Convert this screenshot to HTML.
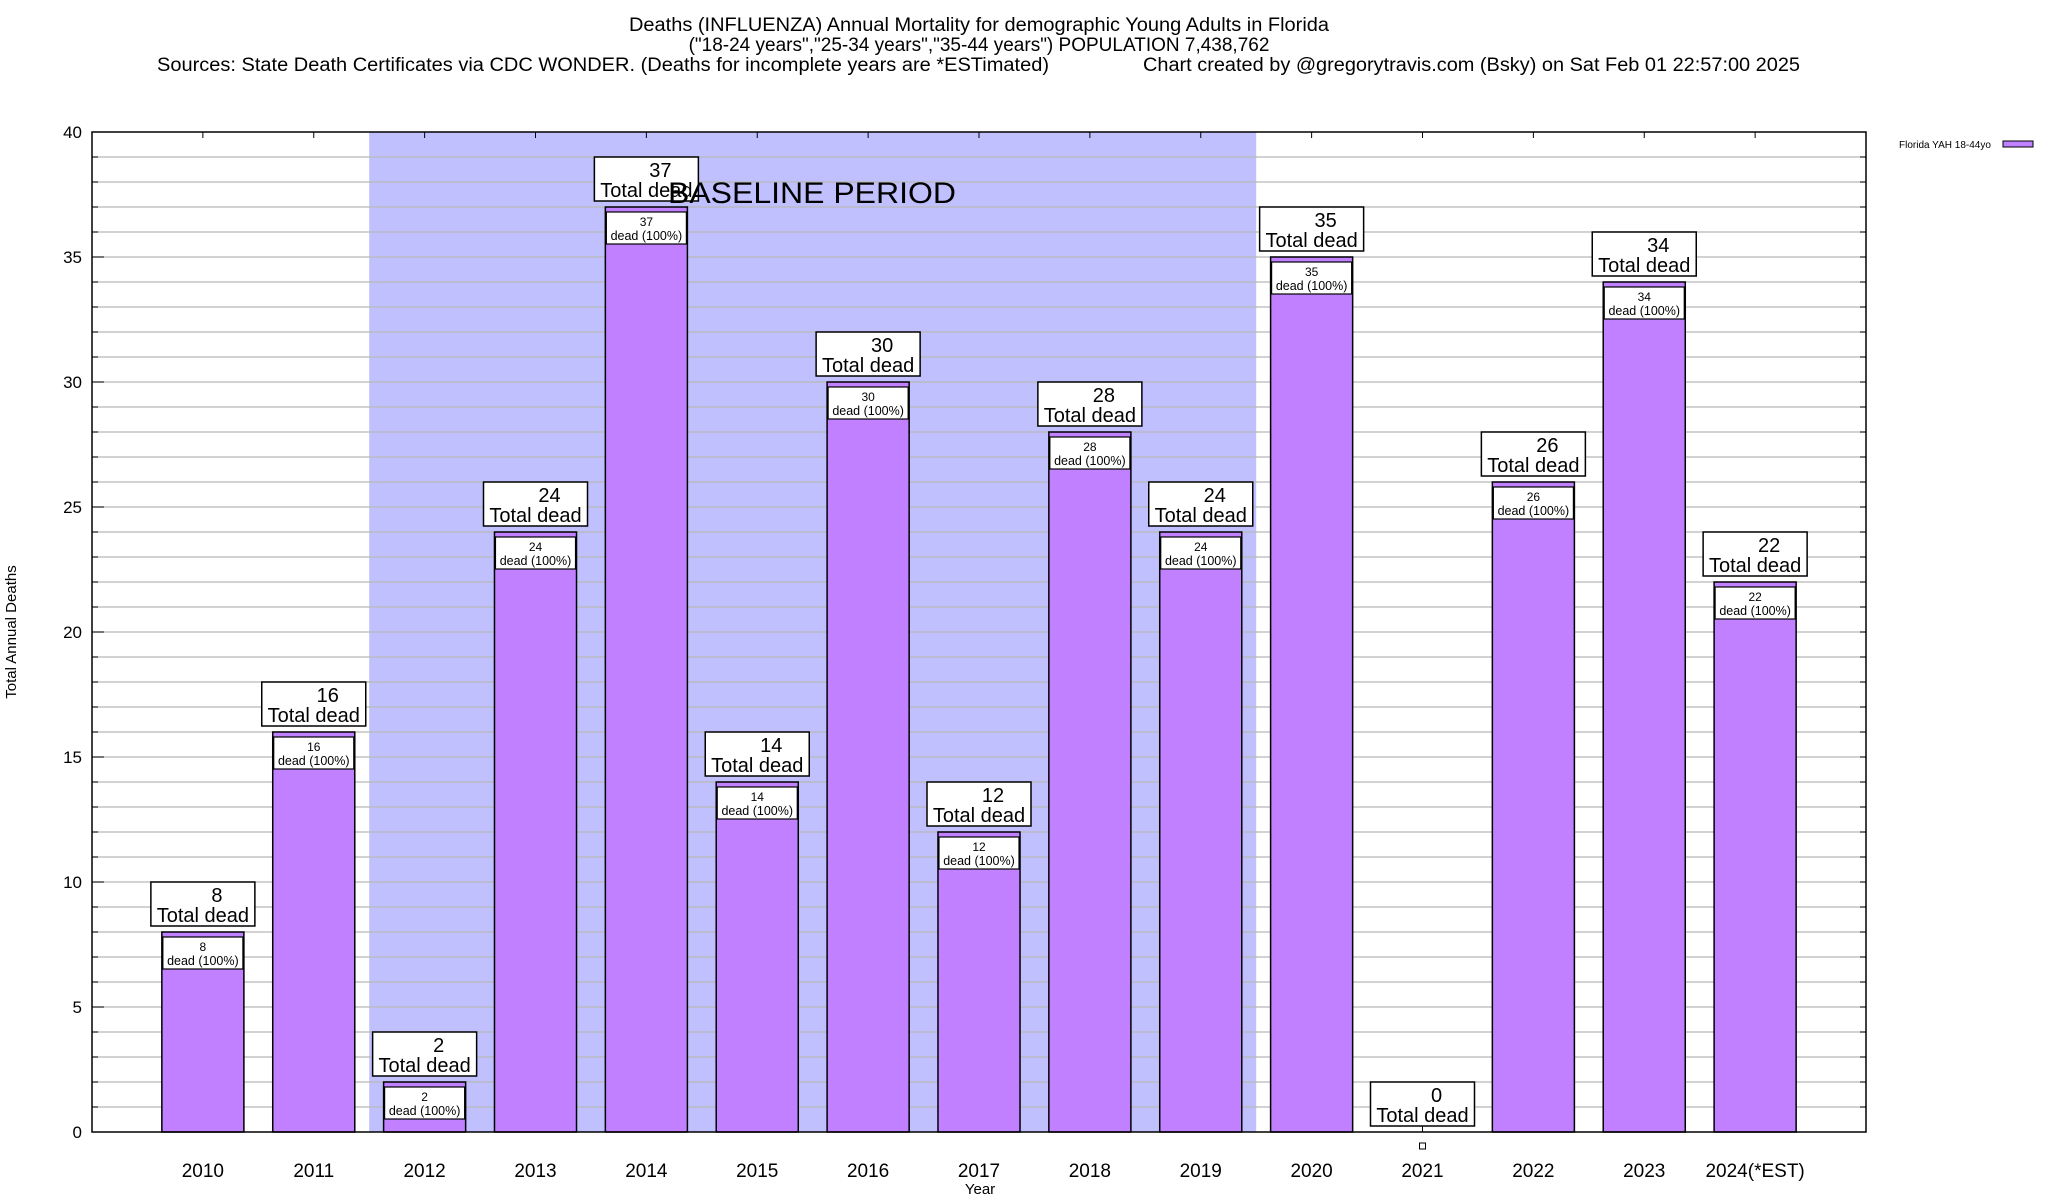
<!DOCTYPE html>
<html><head><meta charset="utf-8">
<style>
html,body{margin:0;padding:0;background:#fff;}
svg{display:block;font-family:"Liberation Sans",sans-serif;}
</style></head>
<body>
<svg id="chart" width="2048" height="1200" viewBox="0 0 2048 1200" xmlns="http://www.w3.org/2000/svg">
  <g>
    <text x="979" y="31" text-anchor="middle" font-size="19" textLength="700" lengthAdjust="spacingAndGlyphs">Deaths (INFLUENZA) Annual Mortality for demographic Young Adults in Florida</text>
    <text x="979" y="51" text-anchor="middle" font-size="19">("18-24 years","25-34 years","35-44 years") POPULATION 7,438,762</text>
    <text x="157" y="71" font-size="19" textLength="892" lengthAdjust="spacingAndGlyphs">Sources: State Death Certificates via CDC WONDER. (Deaths for incomplete years are *ESTimated)</text>
    <text x="1800" y="71" text-anchor="end" font-size="19" textLength="657" lengthAdjust="spacingAndGlyphs">Chart created by @gregorytravis.com (Bsky) on Sat Feb 01 22:57:00 2025</text>
  </g>
  <g id="plot"></g>
  <g>
    <text x="1899" y="148" font-size="10">Florida YAH 18-44yo</text>
    <rect x="2003" y="141" width="30" height="6" fill="#c080ff" stroke="#000" stroke-width="1"/>
  </g>
  <text x="16" y="632" transform="rotate(-90 16 632)" text-anchor="middle" font-size="15">Total Annual Deaths</text>
  <text x="980" y="1194" text-anchor="middle" font-size="15">Year</text>
</svg>
<script>
const years = ["2010","2011","2012","2013","2014","2015","2016","2017","2018","2019","2020","2021","2022","2023","2024(*EST)"];
const deaths = [8,16,2,24,37,14,30,12,28,24,35,0,26,34,22];
const yTicks = [0,5,10,15,20,25,30,35,40];
const baselineStart = 1.5, baselineEnd = 9.5;

const L=92,R=1866,T=132,B=1132,yMax=40;
const NS="http://www.w3.org/2000/svg";
const plot=document.getElementById('plot');
function xS(i){return L+(i+1)*(R-L)/(years.length+1);}
function yS(v){return B-(v/yMax)*(B-T);}
const unit=(R-L)/(years.length+1);
function mk(tag,attrs,parent){const e=document.createElementNS(NS,tag);for(const k in attrs)e.setAttribute(k,attrs[k]);(parent||plot).appendChild(e);return e;}

let sh=mk('rect',{x:L+(baselineStart+1)*unit,y:T,width:(baselineEnd-baselineStart)*unit,height:B-T,fill:'#c0c0ff'});


for(let v=1;v<yMax;v++){
  let g=mk('line',{x1:L,x2:R,y1:yS(v),y2:yS(v),stroke:'#b8b8b8','stroke-width':1.2});
  
  
  mk('line',{x1:L,x2:L+6,y1:yS(v),y2:yS(v),stroke:'#000','stroke-width':1});
  mk('line',{x1:R-6,x2:R,y1:yS(v),y2:yS(v),stroke:'#000','stroke-width':1});
}
yTicks.forEach(v=>{
  let t=mk('text',{x:82,y:yS(v)+6,'text-anchor':'end','font-size':17});
  t.textContent=v;
  
  
  mk('line',{x1:L,x2:L+12,y1:yS(v),y2:yS(v),stroke:'#000','stroke-width':1});
});
let bl=mk('text',{x:812,y:203,'text-anchor':'middle','font-size':30,textLength:288,lengthAdjust:'spacingAndGlyphs'});
bl.textContent='BASELINE PERIOD';



const bw=unit*0.74;
years.forEach((yr,i)=>{
  const cx=xS(i), v=deaths[i], top=yS(v);
  mk('line',{x1:cx,x2:cx,y1:T,y2:T+6,stroke:'#000','stroke-width':1});
  let xl=mk('text',{x:cx,y:1177,'text-anchor':'middle','font-size':19});
  xl.textContent=yr;
  
  
  if(v>0){
    let b=mk('rect',{x:cx-bw/2,y:top,width:bw,height:B-top,fill:'#c080ff',stroke:'#000','stroke-width':1.5});
    
    
    let ib=mk('rect',{x:cx-bw/2+1,y:top+5,width:bw-2,height:32,fill:'#fff',stroke:'#000','stroke-width':1.2});
    
    
    let t1=mk('text',{x:cx,y:top+19,'text-anchor':'middle','font-size':12});
    t1.textContent=v;
    
    
    let t2=mk('text',{x:cx,y:top+33,'text-anchor':'middle','font-size':12.5});
    t2.textContent='dead (100%)';
    
    
  } else {
    mk('line',{x1:cx,x2:cx,y1:B-6,y2:B,stroke:'#000','stroke-width':1});
    let sq=mk('rect',{x:cx-3,y:1143,width:6,height:6,fill:'#fff',stroke:'#000','stroke-width':1});
    
    
  }
  let ob=mk('rect',{x:cx-52,y:top-50,width:104,height:44,fill:'#fff',stroke:'#000','stroke-width':1.5});
  
  
  let n=mk('text',{x:cx+14,y:top-30,'text-anchor':'middle','font-size':20});
  n.textContent=v;
  
  
  let td=mk('text',{x:cx,y:top-10,'text-anchor':'middle','font-size':20});
  td.textContent='Total dead';
  
  
});
plot.appendChild(bl);
let fr=mk('rect',{x:L,y:T,width:R-L,height:B-T,fill:'none',stroke:'#000','stroke-width':1.5});


</script>
</body></html>
